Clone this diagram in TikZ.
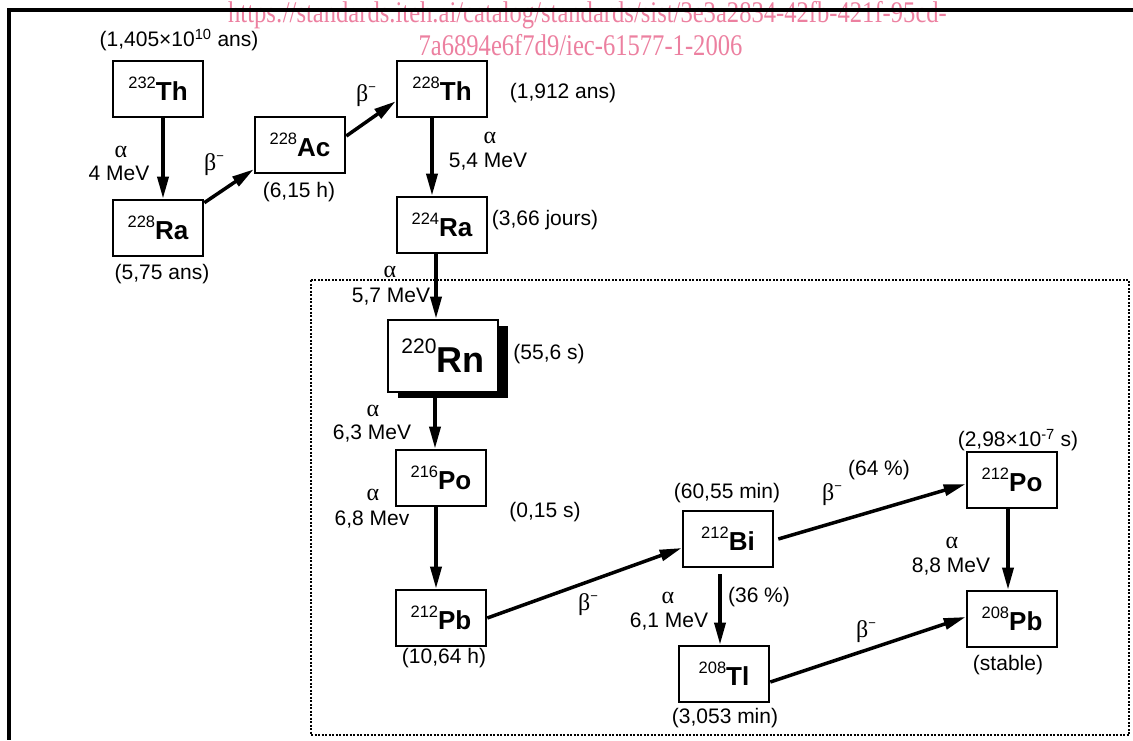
\documentclass[tikz,border=0pt]{standalone}
\usepackage{fontspec}
\setmainfont{Liberation Sans}
\newfontfamily\grk{Liberation Serif}
\usetikzlibrary{arrows.meta,shadows}
\definecolor{wmark}{RGB}{236,128,160}
% nuclide symbol: mass number as superscript, element in bold
\newcommand\nuc[2]{\raisebox{12pt}{\fontsize{16.5}{17}\selectfont #1}{\fontsize{26}{28}\selectfont\bfseries #2}}
% beta-minus sign
\newcommand\bmin{{\grk\fontsize{24}{26}\selectfont β}\raisebox{10pt}{\fontsize{13}{13}\selectfont −}}
\tikzset{
  nbox/.style={draw, line width=2.6pt, fill=white, minimum width=90pt, minimum height=56pt, inner sep=0pt},
  lbl/.style={font=\fontsize{21}{24}\selectfont, inner sep=0pt},
  grkl/.style={font=\grk\fontsize{24}{26}\selectfont, inner sep=0pt},
  decay/.style={line width=3.5pt, -{Triangle[length=22pt,width=11pt]}},
  wm/.style={font=\grk\fontsize{30}{31}\selectfont, text=wmark, xscale=0.82, anchor=base, inner sep=0pt}
}
\begin{document}
\begin{tikzpicture}[x=1pt,y=-1pt]
\useasboundingbox (0,0) rectangle (1133,740);

% catalogue stamp (behind the frame)
\node[wm] (wm1) at (587.5,22) {https://standards.iteh.ai/catalog/standards/sist/3e3a2834-42fb-421f-95cd-};
\node[wm] (wm2) at (580.5,55) {7a6894e6f7d9/iec-61577-1-2006};

% outer frame (top and left edges)
\draw[line width=4pt] (1133,9.5) -- (8.5,9.5) -- (8.5,740);

% region of the short-lived daughters of radon 220
\draw[line width=1.2pt, dash pattern=on 2pt off 1.5pt] (311,280) rectangle (1129,735);

% nuclides
\node[nbox] (th232) at (158,89) {\nuc{232}{Th}};
\node[nbox] (ra228) at (158,228) {\nuc{228}{Ra}};
\node[nbox] (ac228) at (300,145) {\nuc{228}{Ac}};
\node[nbox] (th228) at (442,89) {\nuc{228}{Th}};
\node[nbox] (ra224) at (442,225) {\nuc{224}{Ra}};
\node[nbox, minimum width=110pt, minimum height=72pt,
      drop shadow={shadow xshift=10pt, shadow yshift=-6pt, fill=black, opacity=1}]
      (rn220) at (443,356) {\raisebox{19pt}{\fontsize{21}{22}\selectfont 220}{\fontsize{36}{38}\selectfont\bfseries Rn}};
\node[nbox] (po216) at (441,478) {\nuc{216}{Po}};
\node[nbox] (pb212) at (441,618) {\nuc{212}{Pb}};
\node[nbox] (bi212) at (728,539) {\nuc{212}{Bi}};
\node[nbox] (tl208) at (724,674) {\nuc{208}{Tl}};
\node[nbox] (po212) at (1012,480) {\nuc{212}{Po}};
\node[nbox] (pb208) at (1012,619) {\nuc{208}{Pb}};

% decays
\draw[decay] ([xshift=5pt]th232.south) -- ([xshift=5pt]ra228.north);
\draw[decay] ([yshift=-4pt]ra228.north east) -- ([yshift=5pt]ac228.south west);
\draw[decay] ([yshift=9pt]ac228.east) -- ([yshift=17pt]th228.south west);
\draw[decay] ([xshift=-10pt]th228.south) -- ([xshift=-10pt]ra224.north);
\draw[decay] ([xshift=-6pt]ra224.south) -- ([xshift=-7pt]rn220.north);
\draw[decay] ([xshift=-8pt]rn220.south) -- ([xshift=-6pt]po216.north);
\draw[decay] ([xshift=-5pt]po216.south) -- ([xshift=-5pt]pb212.north);
\draw[decay] (pb212.east) -- ([yshift=-9pt]bi212.west);
\draw[decay] ([xshift=-8pt,yshift=-6pt]bi212.south) -- ([xshift=-4pt]tl208.north);
\draw[decay] ([xshift=4pt]bi212.east) -- ([yshift=-4pt]po212.west);
\draw[decay] ([yshift=-8pt]tl208.east) -- ([yshift=2pt]pb208.west);
\draw[decay] ([xshift=-4pt]po212.south) -- ([xshift=-4pt]pb208.north);

% half-lives
\node[lbl] (t-th232) at (179,40) {(1,405×10\textsuperscript{10} ans)};
\node[lbl] (t-ra228) at (162,274) {(5,75 ans)};
\node[lbl] (t-ac228) at (299,192) {(6,15 h)};
\node[lbl] (t-th228) at (563,93) {(1,912 ans)};
\node[lbl] (t-ra224) at (545,220) {(3,66 jours)};
\node[lbl] (t-rn220) at (549,354) {(55,6 s)};
\node[lbl] (t-po216) at (545,512) {(0,15 s)};
\node[lbl] (t-pb212) at (444,658) {(10,64 h)};
\node[lbl] (t-bi212) at (727,493) {(60,55 min)};
\node[lbl] (t-tl208) at (725,718) {(3,053 min)};
\node[lbl] (t-po212) at (1018,440) {(2,98×10\textsuperscript{-7} s)};
\node[lbl] (t-pb208) at (1008,665) {(stable)};

% alpha decay energies
\node[grkl] (a1) at (121,152) {α};
\node[lbl] (e1) at (119,173) {4 MeV};
\node[grkl] (a2) at (490,138) {α};
\node[lbl] (e2) at (488,162) {5,4 MeV};
\node[grkl] (a3) at (390,272) {α};
\node[lbl] (e3) at (391,297) {5,7 MeV};
\node[grkl] (a4) at (373,411) {α};
\node[lbl] (e4) at (372,434) {6,3 MeV};
\node[grkl] (a5) at (373,495) {α};
\node[lbl] (e5) at (372,520) {6,8 Mev};
\node[grkl] (a6) at (668,598) {α};
\node[lbl] (e6) at (669,622) {6,1 MeV};
\node[grkl] (a7) at (952,543) {α};
\node[lbl] (e7) at (951,567) {8,8 MeV};

% beta decays and branching ratios
\node[inner sep=0pt] (b1) at (214,165) {\bmin};
\node[inner sep=0pt] (b2) at (366,96) {\bmin};
\node[inner sep=0pt] (b3) at (588,605) {\bmin};
\node[inner sep=0pt] (b4) at (832,495) {\bmin};
\node[inner sep=0pt] (b5) at (866,632) {\bmin};
\node[lbl] (p64) at (879,470) {(64 \%)};
\node[lbl] (p36) at (759,597) {(36 \%)};
\end{tikzpicture}
\end{document}
